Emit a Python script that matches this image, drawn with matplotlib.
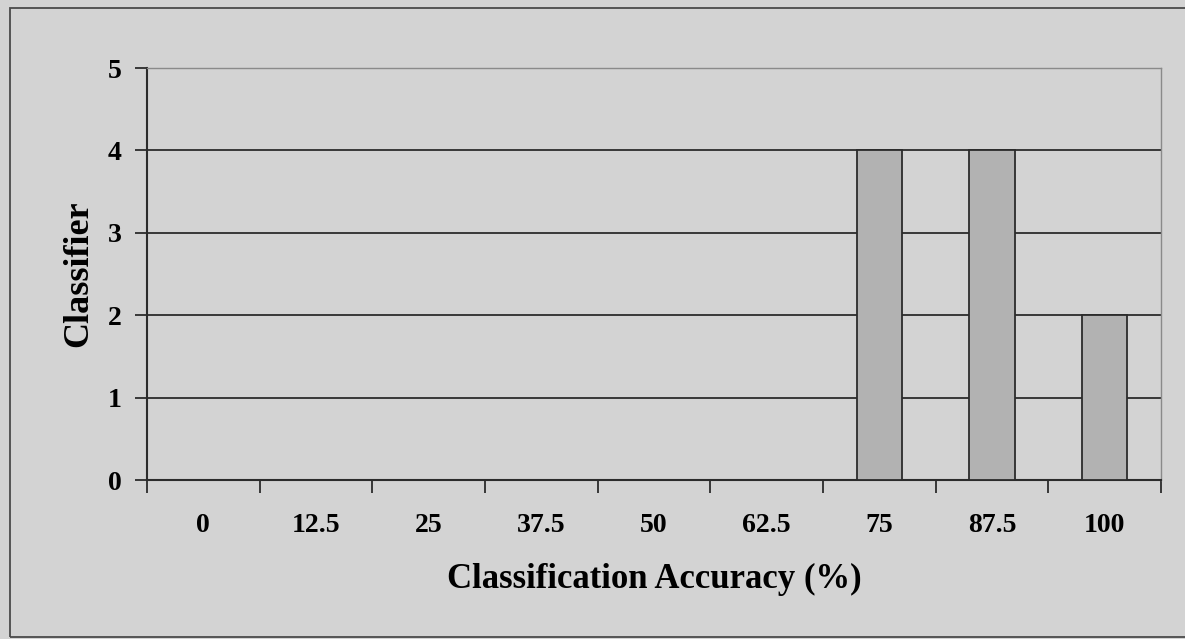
import numpy as np
import matplotlib.pyplot as plt
from matplotlib.patches import Rectangle

# Datos
precision = ['0', '12.5', '25', '37.5', '50', '62.5', '75', '87.5', '100']
clasificadores = [0, 0, 0, 0, 0, 0, 4, 4, 2]
y_ticks = [0, 1, 2, 3, 4, 5]

COLOR_FONDO = '#d3d3d3'
COLOR_BARRA = '#b2b2b2'
COLOR_LINEA = '#2b2b2b'

plt.rcParams['font.family'] = ['Liberation Serif', 'DejaVu Serif']
plt.rcParams['font.weight'] = 'bold'

fig = plt.figure(figsize=(11.85, 6.39), dpi=100)
fig.patch.set_facecolor(COLOR_FONDO)

# Marco exterior del gráfico
W, H = 1185, 639
fig.patches.append(Rectangle((10 / W, 2 / H), 1.2, (631 - 2) / H,
                             transform=fig.transFigure, fill=False,
                             edgecolor='#4a4a4a', linewidth=1.3))

ax = fig.add_axes([147 / W, 1 - 480 / H, (1161 - 147) / W, (480 - 68) / H])
ax.set_facecolor(COLOR_FONDO)

x = np.arange(len(precision))
ax.bar(x, clasificadores, width=0.4, color=COLOR_BARRA,
       edgecolor=COLOR_LINEA, linewidth=1.3, zorder=3)

ax.set_xlim(-0.5, len(precision) - 0.5)
ax.set_ylim(0, 5)

# Líneas de cuadrícula horizontales
for y in y_ticks[1:-1]:
    ax.axhline(y, color=COLOR_LINEA, linewidth=1.3, zorder=1)

ax.set_yticks(y_ticks)
ax.set_yticklabels([str(v) for v in y_ticks], fontsize=20, fontweight='bold')
ax.tick_params(axis='y', direction='out', length=9, width=1.3,
               color=COLOR_LINEA, pad=9)

# Marcas en los límites de categoría, etiquetas en el centro
ax.set_xticks(np.arange(len(precision) + 1) - 0.5)
ax.set_xticklabels([])
ax.set_xticks(x, minor=True)
ax.set_xticklabels(precision, minor=True, fontsize=20, fontweight='bold')
ax.tick_params(axis='x', which='major', direction='out', length=9,
               width=1.3, color=COLOR_LINEA)
ax.tick_params(axis='x', which='minor', length=0, pad=24)

for lado in ['left', 'bottom']:
    ax.spines[lado].set_color(COLOR_LINEA)
    ax.spines[lado].set_linewidth(1.5)
for lado in ['top', 'right']:
    ax.spines[lado].set_color('#8a8a8a')
    ax.spines[lado].set_linewidth(1.0)

ax.set_xlabel('Classification Accuracy (%)', fontsize=25,
              fontweight='bold', labelpad=18)
ax.set_ylabel('Classifier', fontsize=26, fontweight='bold', labelpad=9)

fig.savefig('out.png', dpi=100, facecolor=COLOR_FONDO)
plt.close()
